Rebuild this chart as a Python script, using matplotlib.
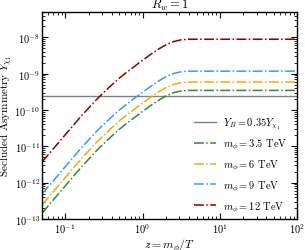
import numpy as np
import matplotlib
matplotlib.use("Agg")
import matplotlib.pyplot as plt
from matplotlib.ticker import LogLocator, NullFormatter

plt.rcParams['font.family'] = 'cmr10'
plt.rcParams['mathtext.fontset'] = 'cm'
plt.rcParams['axes.formatter.use_mathtext'] = True

# z = m_phi / T (log10 values)
log_z = [-1.301, -1.0, -0.8, -0.6, -0.5, -0.4, -0.3, -0.2, -0.1, 0.0, 0.1, 0.2, 0.3,
         0.4, 0.5, 0.6, 0.8, 1.0, 1.5, 2.0]

# log10 Y values read for each curve
log_y_12 = [-11.43, -10.68, -10.18, -9.72, -9.51, -9.31, -9.12, -8.95, -8.79, -8.63, -8.475,
            -8.33, -8.205, -8.115, -8.065, -8.05, -8.05, -8.05, -8.05, -8.05]
log_y_9 = [-12.31, -11.56, -11.06, -10.60, -10.39, -10.19, -10.00, -9.83, -9.67, -9.51, -9.355,
           -9.21, -9.085, -8.995, -8.945, -8.93, -8.93, -8.93, -8.93, -8.93]
log_y_6 = [-12.61, -11.86, -11.36, -10.90, -10.69, -10.49, -10.30, -10.13, -9.97, -9.81, -9.655,
           -9.51, -9.385, -9.295, -9.245, -9.23, -9.23, -9.23, -9.23, -9.23]
log_y_35 = [-12.84, -12.09, -11.59, -11.13, -10.92, -10.72, -10.53, -10.36, -10.20, -10.04, -9.885,
            -9.74, -9.615, -9.525, -9.475, -9.46, -9.46, -9.46, -9.46, -9.46]

Y_B = 2.44e-10

labels = [r'$m_\phi = 3.5$ TeV', r'$m_\phi = 6$ TeV', r'$m_\phi = 9$ TeV', r'$m_\phi = 12$ TeV']
colors = ['#2e8b2e', '#ffa500', '#3399ff', '#8b0000']
series = [log_y_35, log_y_6, log_y_9, log_y_12]

fig = plt.figure(figsize=(3.05, 2.51), dpi=100)
ax = fig.add_axes([0.138, 0.124, 0.836, 0.824])

z = 10 ** np.array(log_z)
ax.axhline(Y_B, color='gray', lw=1.0, label=r'$Y_B = 0.35 Y_{\chi_1}$')
for ly, c, lab in zip(series, colors, labels):
    ax.plot(z, 10 ** np.array(ly), color=c, ls='-.', lw=1.1, label=lab)

ax.set_xscale('log')
ax.set_yscale('log')
ax.set_xlim(0.05, 100)
ax.set_ylim(1e-13, 5e-8)
ax.set_xlabel(r'$z = m_\phi/T$', fontsize=8.5, labelpad=1)
ax.set_ylabel(r'Secluded Asymmetry $Y_{\chi_1}$', fontsize=8, labelpad=-0.5)
ax.set_title(r'$R_w = 1$', fontsize=9, pad=1.5)

ax.xaxis.set_minor_locator(LogLocator(base=10, subs=np.arange(2, 10), numticks=20))
ax.yaxis.set_minor_locator(LogLocator(base=10, subs=np.arange(2, 10), numticks=20))
ax.yaxis.set_major_locator(LogLocator(base=10, numticks=20))
ax.xaxis.set_minor_formatter(NullFormatter())
ax.yaxis.set_minor_formatter(NullFormatter())
ax.tick_params(which='both', direction='in', top=True, right=True, labelsize=7.5)
ax.tick_params(which='major', length=4, width=0.8, pad=1.5)
ax.tick_params(which='minor', length=2, width=0.6)
for s in ax.spines.values():
    s.set_linewidth(1.0)

ax.legend(loc='lower right', bbox_to_anchor=(0.978, 0.005), frameon=False, fontsize=7.5,
          handlelength=2.1, handletextpad=0.7, borderaxespad=0.0, labelspacing=0.62)

fig.savefig('out.png', dpi=100)
